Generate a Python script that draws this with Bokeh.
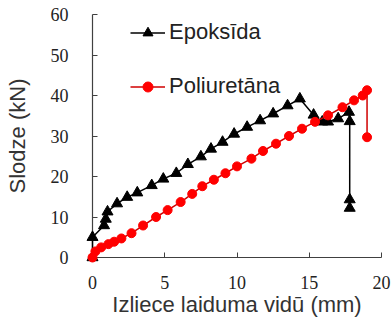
from bokeh.plotting import figure
from bokeh.models import Range1d, Legend, LegendItem, FixedTicker
from bokeh.embed import file_html
from bokeh.resources import INLINE

# Epoksīda (black triangles)
epo_x = [0.0, 0.0, 0.8, 0.92, 1.04, 1.7, 2.4, 3.1, 4.1, 4.9, 5.8, 6.6, 7.5, 8.2, 9.0,
         9.8, 10.7, 11.6, 12.5, 13.5, 14.35, 15.3, 15.9, 16.3, 17.0, 17.75, 17.8, 17.8, 17.8]
epo_y = [0.0, 5.0, 7.9, 9.5, 11.3, 13.3, 14.9, 16.0, 17.8, 19.4, 20.8, 23.0, 24.9, 26.8, 28.5,
         30.5, 32.2, 33.8, 35.5, 37.5, 39.2, 35.2, 33.5, 33.5, 34.3, 35.9, 33.6, 14.3, 12.2]

# Poliuretāna (red circles)
pol_x = [0.0, 0.2, 0.6, 1.1, 1.5, 2.0, 2.7, 3.5, 4.4, 5.2, 6.1, 6.9, 7.6, 8.4, 9.2, 10.0,
         11.0, 11.8, 12.7, 13.6, 14.5, 15.4, 16.3, 17.3, 18.1, 18.7, 19.0, 19.0]
pol_y = [0.0, 1.5, 2.5, 3.3, 3.9, 4.7, 6.0, 7.9, 10.0, 11.7, 13.7, 15.7, 17.6, 19.2, 20.8, 22.5,
         24.4, 26.3, 28.1, 30.0, 31.8, 33.5, 35.1, 37.1, 38.8, 40.0, 41.3, 29.7]

x_ticks = [0, 5, 10, 15, 20]
y_ticks = [0, 10, 20, 30, 40, 50, 60]

AX = "#404040"

p = figure(width=392, height=322, output_backend="svg", toolbar_location=None,
           x_range=Range1d(0, 20), y_range=Range1d(0, 60),
           min_border_left=92, min_border_right=11, min_border_top=14, min_border_bottom=65)
p.outline_line_color = None
p.xgrid.visible = False
p.ygrid.visible = False
p.background_fill_color = "white"

for ax in (p.xaxis[0], p.yaxis[0]):
    ax.axis_line_color = AX
    ax.axis_line_width = 1.2
    ax.major_tick_line_color = AX
    ax.major_tick_in = 5
    ax.major_tick_out = 0
    ax.minor_tick_line_color = None
    ax.major_label_text_font = "Liberation Serif"
    ax.major_label_text_font_size = "18px"
    ax.major_label_text_color = "#222222"
    ax.axis_label_text_font = "Liberation Sans"
    ax.axis_label_text_font_size = "22px"
    ax.axis_label_text_font_style = "normal"
    ax.axis_label_text_color = "#333333"

p.xaxis.ticker = FixedTicker(ticks=x_ticks)
p.yaxis.ticker = FixedTicker(ticks=y_ticks)
p.xaxis.axis_label = "Izliece laiduma vidū (mm)"
p.yaxis.axis_label = "Slodze (kN)"
p.xaxis.major_label_standoff = 18
p.yaxis.major_label_standoff = 24
p.xaxis.axis_label_standoff = 0
p.yaxis.axis_label_standoff = 18

# data
l1 = p.line(epo_x, epo_y, line_color="black", line_width=1.5, level="overlay")
s1 = p.scatter(epo_x, epo_y, marker="triangle", size=11, fill_color="black",
               line_color="black", level="overlay")
l2 = p.line(pol_x, pol_y, line_color="#d00000", line_width=1.5, level="overlay")
s2 = p.scatter(pol_x, pol_y, marker="circle", size=9, fill_color="#ff0000",
               line_color="#ff0000", level="overlay")

legend = Legend(items=[LegendItem(label="Epoksīda", renderers=[l1, s1]),
                       LegendItem(label="Poliuretāna", renderers=[l2, s2])],
                location=(38, 158), orientation="vertical",
                glyph_width=35, glyph_height=25, label_height=25,
                label_standoff=4, spacing=28, padding=0, margin=0,
                label_text_font="Liberation Sans", label_text_font_size="22px",
                label_text_color="#222222",
                border_line_color=None, background_fill_alpha=0)
p.add_layout(legend, "center")

open("out.html", "w").write(file_html(p, INLINE))
